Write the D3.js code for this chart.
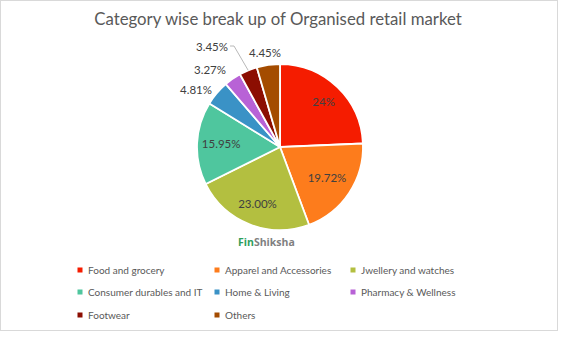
<!DOCTYPE html>
<html><head><meta charset="utf-8">
<script src="https://cdn.jsdelivr.net/npm/d3@7"></script>
<style>html,body{margin:0;padding:0;background:#fff;}svg{display:block;}</style>
</head><body>
<script>
const categories = ["Food and grocery","Apparel and Accessories","Jwellery and watches","Consumer durables and IT","Home & Living","Pharmacy & Wellness","Footwear","Others"];
const values = [24, 19.72, 23.00, 15.95, 4.81, 3.27, 3.45, 4.45];
const valueLabels = ["24%","19.72%","23.00%","15.95%","4.81%","3.27%","3.45%","4.45%"];
const colors = ["#f51c00","#fd7c1c","#b3bf40","#4fc69e","#3a92c6","#b862d6","#8c0e02","#a44c00"];
const title = "Category wise break up of Organised retail market";

const W = 569, H = 341;
const svg = d3.select("body").append("svg").attr("width", W).attr("height", H);
svg.append("rect").attr("x",0.5).attr("y",0.5).attr("width",557).attr("height",330)
  .attr("fill","#fff").attr("stroke","#d9d9d9");

svg.append("text").attr("x",278).attr("y",25).attr("text-anchor","middle")
  .attr("font-family","Lato, 'Open Sans', sans-serif").attr("font-size",16.8)
  .attr("fill","#595959").text(title);

const cx = 280, cy = 147, r = 83;
const pie = d3.pie().sort(null).value(d => d)(values);
const arc = d3.arc().innerRadius(0).outerRadius(r);
const g = svg.append("g").attr("transform",`translate(${cx},${cy})`);
g.selectAll("path").data(pie).join("path")
  .attr("d", arc).attr("fill",(d,i)=>colors[i])
  .attr("stroke","#fff").attr("stroke-width",1.8);

const font = "Lato, 'Open Sans', sans-serif";
const labelRadius = [0.76, 0.68, 0.74, 0.71];
const outsideOffsets = {4:[-84,-57],5:[-70,-77],6:[-68,-100],7:[-15,-94]};
pie.forEach((d,i)=>{
  let x,y;
  if (i<4) {
    const a = (d.startAngle+d.endAngle)/2, rr = r*labelRadius[i];
    x = Math.sin(a)*rr; y = -Math.cos(a)*rr;
  } else { [x,y] = outsideOffsets[i]; }
  g.append("text").attr("x",x).attr("y",y).attr("dy","0.35em")
    .attr("text-anchor","middle").attr("font-family",font).attr("font-size",11.5)
    .attr("fill","#404040").text(valueLabels[i]);
});
{
  const d = pie[6];
  const a = (d.startAngle+d.endAngle)/2;
  const ex = Math.sin(a)*r, ey = -Math.cos(a)*r;
  g.append("polyline").attr("points",`${-50},${-101} ${-46},${-101} ${ex},${ey}`)
    .attr("fill","none").attr("stroke","#a6a6a6").attr("stroke-width",0.8);
}

const wm = svg.append("text").attr("x",238).attr("y",246).attr("font-family","'Open Sans', sans-serif")
  .attr("font-size",10.5).attr("font-weight","bold");
wm.append("tspan").attr("fill","#2e9e5b").text("Fin");
wm.append("tspan").attr("fill","#7f7f7f").text("Shiksha");

const colX = [80, 217, 353], rowY = [270, 292, 315];
categories.forEach((c,i)=>{
  const x = colX[i%3], y = rowY[Math.floor(i/3)];
  svg.append("rect").attr("x",x-2.5).attr("y",y-2.5).attr("width",5).attr("height",5).attr("fill",colors[i]);
  svg.append("text").attr("x",x+8).attr("y",y).attr("dy","0.35em")
    .attr("font-family",font).attr("font-size",10).attr("fill","#595959").text(c);
});
</script>
</body></html>
